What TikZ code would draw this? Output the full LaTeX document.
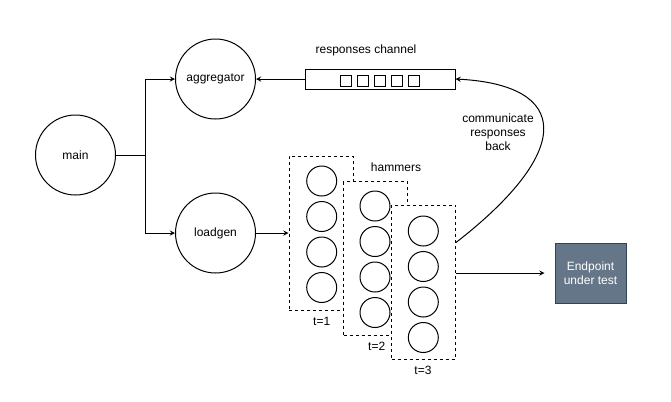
\documentclass[tikz,border=0pt]{standalone}
\usepackage{fontspec}
\setmainfont{Liberation Sans}
\usepackage{tikz}
\usetikzlibrary{calc, positioning, arrows, backgrounds}
\definecolor{slate}{HTML}{647687}
\definecolor{slateline}{HTML}{314354}
\tikzstyle{proc}=[inner sep=0pt, draw, shape=circle, minimum size=60pt, line width=0.75pt]
\tikzstyle{ham}=[inner sep=0pt, draw, shape=circle, minimum size=22.5pt, line width=0.75pt]
\tikzstyle{slot}=[inner sep=0pt, draw, shape=rectangle, minimum size=8.25pt, line width=0.75pt]
\tikzstyle{batch}=[inner sep=0pt, draw, fill=white, shape=rectangle, minimum width=48pt, minimum height=115.5pt, line width=0.75pt, dash pattern=on 2.25pt off 2.25pt]
\tikzstyle{lbl}=[inner sep=0pt, align=center]
\tikzstyle{wire}=[line width=0.75pt]
\tikzset{>=stealth}

\begin{document}
\begin{tikzpicture}[x=0.75pt, y=-0.75pt, every node/.style={font=\fontsize{9}{10.5}\selectfont}]
\fill[white] (0,0) rectangle (671,401);
\node[proc] (M) at (75.5,155) {main};
\node[proc] (Ag) at (215.5,79) {aggregator};
\node[proc] (L) at (215.5,233) {loadgen};

% responses channel
\node[draw, line width=0.75pt, minimum width=112.5pt, minimum height=15pt] (Ch) at (380,79) {};
\node[slot] (S1) at (346,80.5) {};
\node[slot] (S2) at (363,80.5) {};
\node[slot] (S3) at (380,80.5) {};
\node[slot] (S4) at (397,80.5) {};
\node[slot] (S5) at (414,80.5) {};
\node[lbl] (ChL) at (366,50) {responses channel};

% hammers
\node[batch] (B1) at (321,233) {};
\node[ham] (H11) at (321.7,181) {};
\node[ham] (H12) at (321.7,216.5) {};
\node[ham] (H13) at (321.7,252) {};
\node[ham] (H14) at (321.7,287.5) {};
\node[batch] (B2) at (375.5,258.5) {};
\node[ham] (H21) at (375,206) {};
\node[ham] (H22) at (375,241.5) {};
\node[ham] (H23) at (375,277) {};
\node[ham] (H24) at (375,312.5) {};
\node[batch] (B3) at (423.5,282) {};
\node[ham] (H31) at (423.3,231) {};
\node[ham] (H32) at (423.3,266.5) {};
\node[ham] (H33) at (423.3,302) {};
\node[ham] (H34) at (423.3,337.5) {};
\node[lbl] (T1) at (321.7,321.7) {t=1};
\node[lbl] (T2) at (376.7,346.7) {t=2};
\node[lbl] (T3) at (423,370) {t=3};
\node[lbl] (HL) at (396,167) {hammers};

\node[inner sep=0pt, draw=slateline, fill=slate, text=white, align=center, minimum width=53.25pt, minimum height=45pt, line width=0.75pt] (E) at (590.5,273) {Endpoint\\under test};

\coordinate (J) at (145.3,155);
\coordinate (Q) at ($(B3.north east)+(0,38)$);
\draw[wire] (M) -- (J);
\draw[wire, ->] (J) |- (Ag);
\draw[wire, ->] (J) |- (L);
\draw[wire, ->] (Ch) -- (Ag);
\draw[wire, ->] (L) -- (B1);
\draw[wire, ->, shorten >=7.5pt] (B3.east |- E.west) -- (E.west);
\draw[wire, ->] (Q) .. controls (575,150) and (570,85) .. (Ch.east);
\node[lbl] (CL) at (498,132) {communicate\\responses\\back};
\end{tikzpicture}
\end{document}
